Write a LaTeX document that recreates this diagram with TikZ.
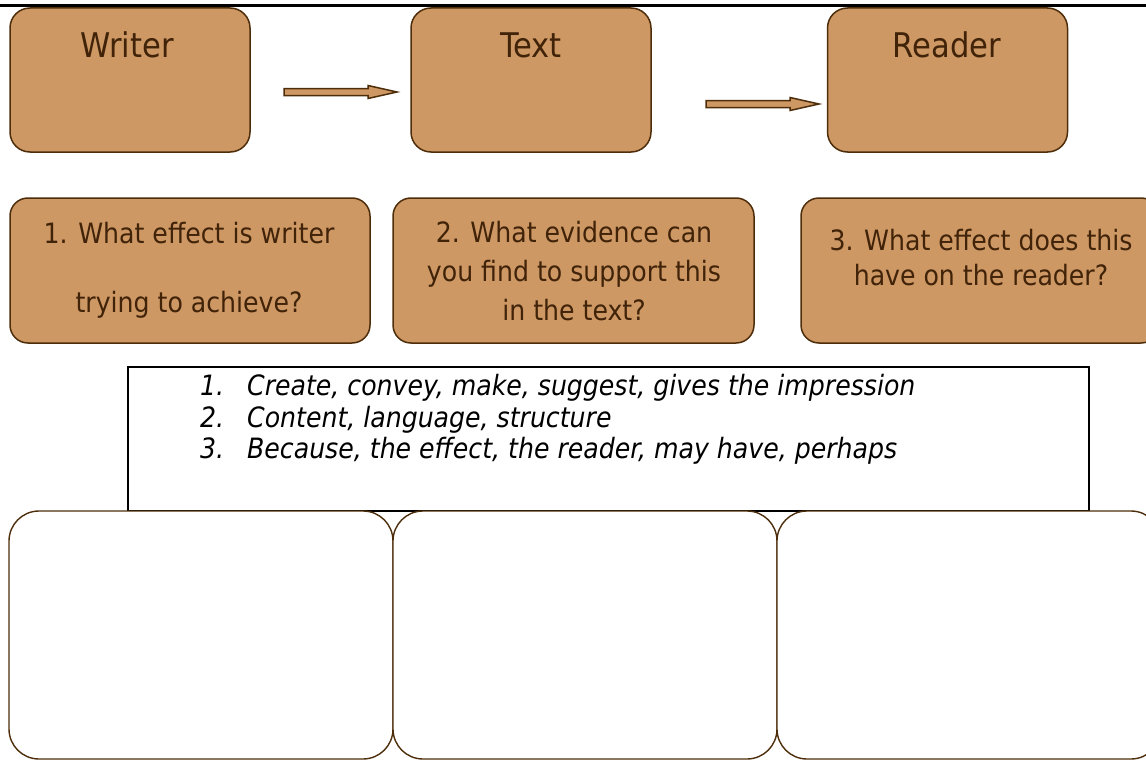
\documentclass[tikz,border=0pt]{standalone}
\usepackage{fontspec}
\setmainfont{DejaVu Sans Condensed}
\usetikzlibrary{calc}
\definecolor{boxfill}{RGB}{206,152,101}
\definecolor{boxline}{RGB}{77,45,10}
\definecolor{txtbrown}{RGB}{64,35,8}
\tikzset{
  topbox/.style={draw=boxline, fill=boxfill, rounded corners=20pt, line width=1.5pt,
    minimum width=240pt, minimum height=144pt, inner sep=0pt},
  qbox/.style={draw=boxline, fill=boxfill, rounded corners=18pt, line width=1.5pt,
    minimum height=145pt, inner sep=0pt},
  ansbox/.style={draw=boxline, fill=white, rounded corners=30pt, line width=1.4pt,
    minimum width=384pt, minimum height=248pt, inner sep=0pt},
  title/.style={text=txtbrown, font=\fontsize{34}{40}\selectfont, anchor=base, inner sep=0pt},
  qtext/.style={text=txtbrown, font=\fontsize{28}{33}\selectfont, anchor=base, inner sep=0pt},
  hint/.style={text=black, font=\itshape\fontsize{28}{33}\selectfont, anchor=base west, inner sep=0pt},
  blockarrow/.style={draw=boxline, fill=boxfill, line width=1.5pt, line join=miter},
}
\begin{document}
\begin{tikzpicture}[x=1pt,y=-1pt]
\useasboundingbox (0,0) rectangle (1146,760);
\clip (0,0) rectangle (1146,760);
% top rule
\draw[line width=3pt] (0,6) -- (1146,6);
% top boxes
\node[topbox] (writer) at (130,80) {};
\node[topbox] (text) at (531,80) {};
\node[topbox] (reader) at (947.5,80) {};
\node[title] (wl) at (127,58) {Writer};
\node[title] (tl) at (531,58) {Text};
\node[title] (rl) at (947,58) {Reader};
% block arrows
\coordinate (a1s) at (284,92);
\coordinate (a1e) at (397,92);
\coordinate (a2s) at (706,104);
\coordinate (a2e) at (819,104);
\foreach \s/\e in {a1s/a1e, a2s/a2e}{
  \draw[blockarrow] ($(\s)+(0,-3.5)$) -- ($(\e)+(-29,-3.5)$) -- ($(\e)+(-29,-6.5)$) -- (\e)
    -- ($(\e)+(-29,6.5)$) -- ($(\e)+(-29,3.5)$) -- ($(\s)+(0,3.5)$) -- cycle;
}
% question boxes
\node[qbox, minimum width=360pt] (q1) at (190,270.5) {};
\node[qbox, minimum width=361pt] (q2) at (573.5,270.5) {};
\node[qbox, minimum width=358pt] (q3) at (980,270.5) {};
\node[qtext] (q1a) at (189,243) {1. What effect is writer};
\node[qtext] (q1b) at (189,312) {trying to achieve?};
\node[qtext] (q2a) at (574,242) {2. What evidence can};
\node[qtext] (q2b) at (574,281) {you find to support this};
\node[qtext] (q2c) at (574,320) {in the text?};
\node[qtext] (q3a) at (981,250) {3. What effect does this};
\node[qtext] (q3b) at (981,285) {have on the reader?};
% hint box
\node[draw=black, line width=1.4pt, minimum width=961pt, minimum height=144pt, inner sep=0pt] (hints) at (608.5,439) {};
\node[hint] (h1n) at (200,395) {1.};
\node[hint] (h1) at (247,395) {Create, convey, make, suggest, gives the impression};
\node[hint] (h2n) at (200,427) {2.};
\node[hint] (h2) at (247,427) {Content, language, structure};
\node[hint] (h3n) at (200,458) {3.};
\node[hint] (h3) at (247,458) {Because, the effect, the reader, may have, perhaps};
% answer boxes
\node[ansbox] (b1) at (201,635) {};
\node[ansbox] (b2) at (585,635) {};
\node[ansbox] (b3) at (969,635) {};
\end{tikzpicture}
\end{document}
